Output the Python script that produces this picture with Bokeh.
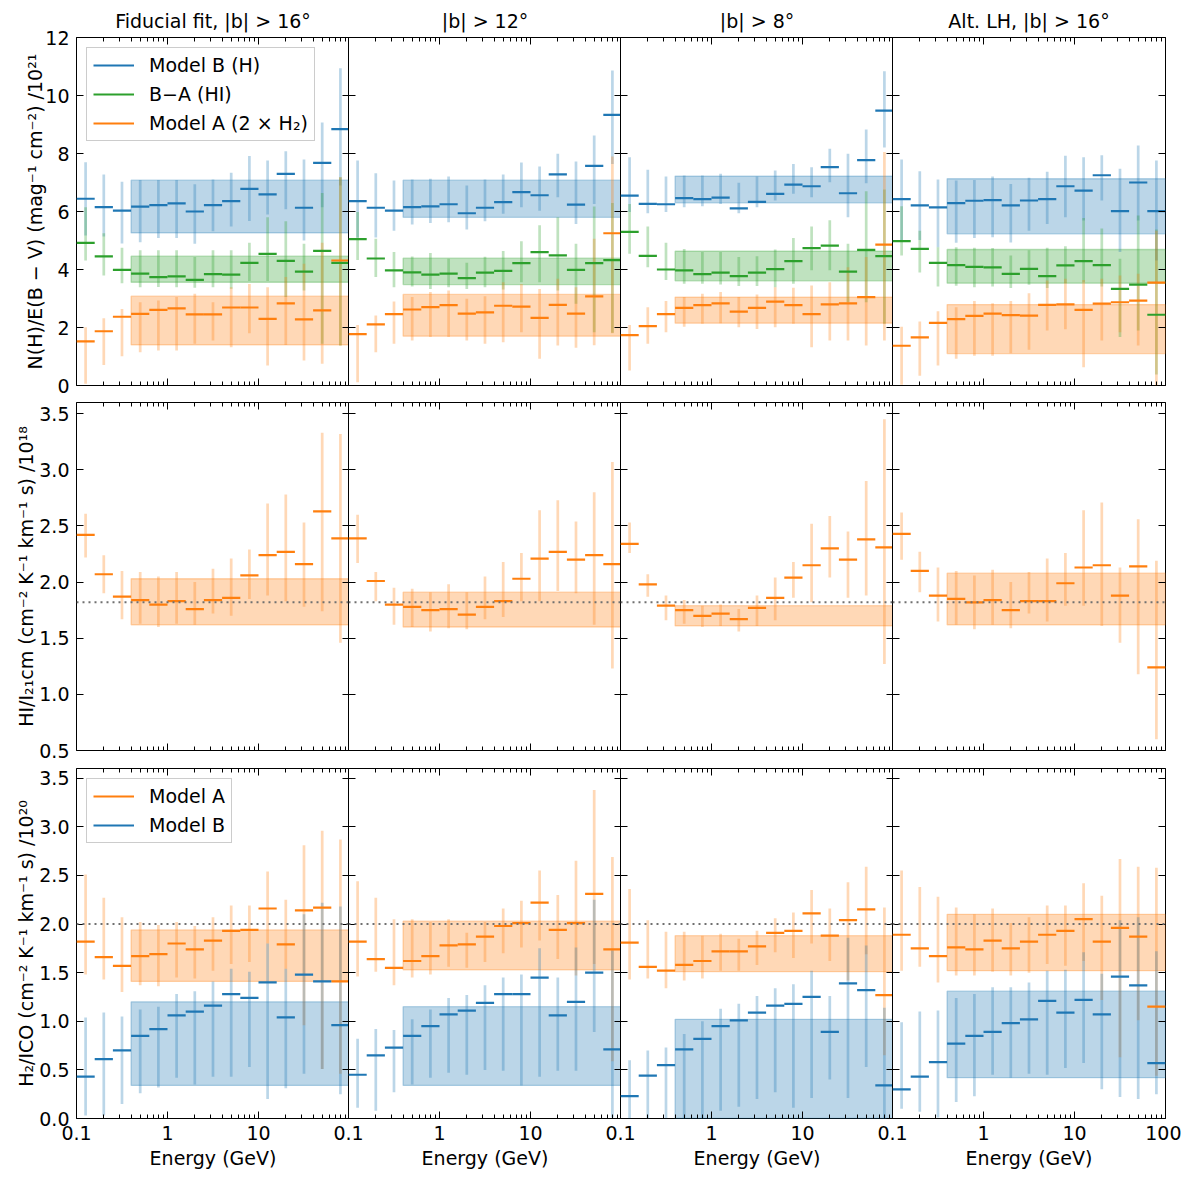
from bokeh.plotting import figure
from bokeh.models import FixedTicker, LinearAxis, LogAxis, Span, Legend, LegendItem
from bokeh.core.properties import value
from bokeh.layouts import row, column
from bokeh.embed import file_html
from bokeh.resources import INLINE

# ---------------- energy bins (GeV) ----------------
E_LO = [0.1, 0.1585, 0.2512, 0.3981, 0.631, 1.0, 1.585, 2.512, 3.981, 6.31, 10.0, 15.85, 25.12, 39.81, 63.1]
E_HI = [0.1585, 0.2512, 0.3981, 0.631, 1.0, 1.585, 2.512, 3.981, 6.31, 10.0, 15.85, 25.12, 39.81, 63.1, 100.0]
E_MID = [0.1259, 0.1995, 0.3162, 0.5012, 0.7943, 1.259, 1.995, 3.162, 5.012, 7.943, 12.59, 19.95, 31.62, 50.12, 79.43]
BAND_E = [0.3981, 100.0]

# ---------------- row 1: N(H)/E(B-V) ----------------
# fiducial |b|>16
B_f16 = [6.44, 6.15, 6.03, 6.17, 6.22, 6.28, 6.00, 6.22, 6.36, 6.78, 6.59, 7.30, 6.13, 7.68, 8.84]
B_f16_lo = [5.17, 5.14, 4.90, 4.94, 5.09, 5.09, 4.89, 5.32, 5.48, 5.67, 5.90, 6.08, 5.00, 6.15, 6.90]
B_f16_hi = [7.70, 7.28, 7.03, 7.09, 7.09, 7.09, 6.94, 7.10, 7.34, 7.91, 7.76, 8.08, 7.79, 9.07, 10.94]
G_f16 = [4.92, 4.45, 3.99, 3.86, 3.74, 3.76, 3.64, 3.84, 3.82, 4.23, 4.54, 4.30, 3.93, 4.64, 4.23]
G_f16_lo = [4.31, 3.79, 3.53, 3.39, 3.40, 3.39, 3.37, 3.39, 3.34, 3.60, 3.60, 3.05, 3.28, 1.44, 1.38]
G_f16_hi = [6.15, 5.25, 4.75, 4.66, 4.66, 4.66, 4.43, 4.66, 4.66, 4.92, 5.80, 5.66, 4.89, 6.64, 7.18]
O_f16 = [1.52, 1.87, 2.37, 2.47, 2.61, 2.66, 2.45, 2.45, 2.69, 2.69, 2.30, 2.83, 2.28, 2.59, 4.31]
O_f16_lo = [0.06, 0.71, 1.01, 1.15, 1.21, 1.21, 1.44, 1.55, 1.32, 1.80, 0.69, 1.40, 0.86, 0.75, 1.38]
O_f16_hi = [2.01, 2.32, 2.64, 2.87, 2.93, 3.05, 3.16, 2.87, 3.39, 3.50, 3.39, 3.74, 4.20, 4.92, 7.18]
BAND_B_f16 = [5.26, 7.08]
BAND_G_f16 = [3.56, 4.46]
BAND_O_f16 = [1.40, 3.08]

# |b|>12
B_b12 = [6.36, 6.13, 6.03, 6.15, 6.18, 6.25, 5.94, 6.13, 6.32, 6.67, 6.56, 7.28, 6.24, 7.57, 9.33]
B_b12_lo = [5.10, 5.10, 5.34, 5.55, 5.60, 5.63, 5.38, 5.66, 5.92, 6.15, 6.03, 6.49, 5.57, 6.26, 7.64]
B_b12_hi = [7.76, 7.32, 7.07, 7.10, 7.13, 7.21, 6.90, 7.10, 7.28, 7.69, 7.55, 7.99, 7.72, 8.62, 10.86]
G_b12 = [5.05, 4.38, 3.97, 3.90, 3.82, 3.86, 3.70, 3.89, 3.95, 4.22, 4.60, 4.49, 3.99, 4.22, 4.32]
G_b12_lo = [4.33, 3.74, 3.39, 3.41, 3.33, 3.39, 3.33, 3.39, 3.31, 3.56, 3.56, 3.28, 2.82, 1.84, 1.82]
G_b12_hi = [5.98, 5.06, 4.60, 4.45, 4.57, 4.37, 4.23, 4.44, 4.64, 4.97, 5.53, 5.80, 4.89, 6.17, 6.29]
O_b12 = [1.77, 2.11, 2.46, 2.62, 2.70, 2.77, 2.48, 2.52, 2.75, 2.72, 2.33, 2.78, 2.48, 3.07, 5.25]
O_b12_lo = [0.11, 1.15, 1.44, 1.55, 1.67, 1.67, 1.55, 1.44, 1.49, 1.84, 0.92, 1.38, 1.30, 1.39, 1.80]
O_b12_hi = [2.09, 2.41, 2.90, 3.05, 3.22, 3.28, 2.99, 3.08, 3.56, 3.50, 3.33, 3.68, 3.39, 5.06, 7.90]
BAND_B_b12 = [5.80, 7.08]
BAND_G_b12 = [3.48, 4.39]
BAND_O_b12 = [1.70, 3.14]

# |b|>8
B_b8 = [6.55, 6.26, 6.25, 6.46, 6.43, 6.48, 6.11, 6.33, 6.61, 6.93, 6.87, 7.53, 6.63, 7.77, 9.48]
B_b8_lo = [5.98, 5.94, 5.98, 6.15, 6.18, 6.26, 5.94, 6.15, 6.38, 6.61, 6.49, 7.01, 5.80, 6.97, 8.21]
B_b8_hi = [7.87, 7.44, 7.21, 7.24, 7.24, 7.30, 6.99, 7.21, 7.41, 7.64, 7.53, 8.16, 7.99, 8.83, 10.84]
G_b8 = [5.30, 4.47, 4.00, 3.97, 3.84, 3.89, 3.77, 3.89, 4.01, 4.29, 4.74, 4.82, 3.93, 4.68, 4.46]
G_b8_lo = [4.54, 4.08, 3.64, 3.51, 3.51, 3.48, 3.43, 3.43, 3.39, 3.51, 3.97, 3.97, 2.87, 2.87, 2.13]
G_b8_hi = [6.26, 5.48, 4.92, 4.71, 4.60, 4.60, 4.43, 4.46, 4.69, 5.09, 5.48, 5.70, 4.89, 6.70, 6.76]
O_b8 = [1.74, 2.05, 2.46, 2.68, 2.77, 2.83, 2.55, 2.68, 2.89, 2.77, 2.46, 2.80, 2.83, 3.05, 4.86]
O_b8_lo = [0.52, 1.44, 1.84, 2.03, 2.13, 2.15, 2.01, 1.95, 2.01, 2.13, 1.32, 1.55, 1.55, 1.38, 1.55]
O_b8_hi = [2.09, 2.70, 2.91, 3.05, 3.16, 3.22, 3.05, 3.14, 3.39, 3.37, 3.45, 3.56, 4.08, 4.43, 8.05]
BAND_B_b8 = [6.30, 7.22]
BAND_G_b8 = [3.61, 4.63]
BAND_O_b8 = [2.15, 3.05]

# Alt. LH |b|>16
B_alt = [6.43, 6.21, 6.14, 6.29, 6.37, 6.39, 6.21, 6.38, 6.43, 6.87, 6.72, 7.25, 6.01, 7.00, 6.01]
B_alt_lo = [5.00, 5.02, 4.77, 4.92, 5.09, 5.11, 4.93, 5.34, 5.57, 5.80, 5.69, 6.38, 4.60, 5.69, 4.31]
B_alt_hi = [7.79, 7.39, 7.10, 7.07, 7.09, 7.21, 6.95, 7.16, 7.37, 7.92, 7.87, 7.94, 7.47, 8.28, 7.76]
G_alt = [4.98, 4.71, 4.23, 4.15, 4.09, 4.07, 3.85, 4.02, 3.77, 4.14, 4.29, 4.15, 3.33, 3.48, 2.44]
G_alt_lo = [4.48, 3.90, 3.41, 3.44, 3.39, 3.41, 3.36, 3.47, 3.36, 3.53, 3.56, 3.41, 1.67, 1.90, 0.38]
G_alt_hi = [6.18, 5.34, 4.77, 4.77, 4.75, 4.74, 4.48, 4.66, 4.75, 4.80, 5.78, 5.41, 4.37, 5.86, 5.38]
O_alt = [1.37, 1.66, 2.16, 2.29, 2.40, 2.48, 2.43, 2.41, 2.78, 2.80, 2.61, 2.82, 2.87, 2.93, 3.55]
O_alt_lo = [0.03, 0.34, 0.69, 0.92, 1.03, 1.03, 1.11, 1.23, 1.90, 1.94, 0.63, 1.55, 1.84, 1.38, 0.00]
O_alt_hi = [2.03, 2.21, 2.56, 2.70, 2.91, 2.84, 2.91, 3.18, 3.62, 3.68, 3.64, 3.68, 3.79, 3.85, 5.34]
BAND_B_alt = [5.23, 7.13]
BAND_G_alt = [3.53, 4.69]
BAND_O_alt = [1.10, 2.79]

# ---------------- row 2: HI / I21cm ----------------
HI_f16 = [2.42, 2.07, 1.87, 1.84, 1.80, 1.83, 1.76, 1.84, 1.86, 2.06, 2.24, 2.27, 2.16, 2.63, 2.39]
HI_f16_lo = [2.22, 1.90, 1.67, 1.63, 1.60, 1.63, 1.62, 1.72, 1.70, 1.85, 1.88, 1.83, 1.78, 1.74, 1.46]
HI_f16_hi = [2.61, 2.24, 2.10, 2.09, 2.05, 2.09, 2.00, 2.12, 2.21, 2.29, 2.70, 2.78, 2.53, 3.33, 3.32]
BAND_HI_f16 = [1.62, 2.03]
HI_b12 = [2.39, 2.01, 1.80, 1.78, 1.75, 1.76, 1.71, 1.78, 1.83, 2.03, 2.21, 2.27, 2.20, 2.24, 2.16]
HI_b12_lo = [2.17, 1.83, 1.62, 1.60, 1.56, 1.59, 1.58, 1.67, 1.69, 1.83, 1.83, 1.92, 1.90, 1.62, 1.23]
HI_b12_hi = [2.60, 2.09, 1.95, 1.94, 1.91, 1.98, 1.91, 2.05, 2.18, 2.26, 2.64, 2.73, 2.54, 2.80, 3.07]
BAND_HI_b12 = [1.60, 1.91]
HI_b8 = [2.34, 1.98, 1.79, 1.75, 1.70, 1.72, 1.67, 1.77, 1.86, 2.04, 2.15, 2.30, 2.20, 2.38, 2.31]
HI_b8_lo = [2.26, 1.87, 1.66, 1.63, 1.60, 1.61, 1.56, 1.61, 1.66, 1.86, 1.82, 2.04, 1.86, 1.88, 1.27]
HI_b8_hi = [2.53, 2.07, 1.88, 1.84, 1.79, 1.80, 1.76, 1.88, 2.04, 2.18, 2.52, 2.59, 2.45, 2.90, 3.45]
BAND_HI_b8 = [1.61, 1.79]
HI_alt = [2.43, 2.10, 1.88, 1.85, 1.82, 1.84, 1.75, 1.83, 1.83, 1.99, 2.13, 2.15, 1.88, 2.14, 1.24]
HI_alt_lo = [2.20, 1.91, 1.65, 1.62, 1.58, 1.62, 1.59, 1.72, 1.65, 1.79, 1.79, 1.61, 1.46, 1.18, 0.60]
HI_alt_hi = [2.62, 2.27, 2.13, 2.10, 2.06, 2.11, 2.00, 2.09, 2.21, 2.26, 2.64, 2.71, 2.13, 2.56, 2.19]
BAND_HI_alt = [1.62, 2.08]

# ---------------- row 3: H2 / ICO ----------------
A_f16 = [1.82, 1.66, 1.57, 1.67, 1.69, 1.80, 1.74, 1.83, 1.93, 1.94, 2.16, 1.79, 2.14, 2.17, 1.41]
A_f16_lo = [1.48, 1.43, 1.30, 1.37, 1.36, 1.45, 1.44, 1.52, 1.59, 1.61, 1.80, 1.54, 0.96, 0.51, 0.46]
A_f16_hi = [2.51, 2.27, 2.07, 2.02, 1.99, 2.02, 1.98, 2.07, 2.19, 2.19, 2.54, 2.25, 2.81, 2.96, 2.87]
MB_f16 = [0.43, 0.61, 0.70, 0.85, 0.92, 1.06, 1.10, 1.16, 1.28, 1.24, 1.40, 1.04, 1.48, 1.41, 0.96]
MB_f16_lo = [0.03, 0.03, 0.15, 0.26, 0.32, 0.42, 0.35, 0.43, 0.43, 0.53, 0.20, 0.31, 0.46, 0.51, 0.25]
MB_f16_hi = [1.04, 1.09, 1.05, 1.12, 1.15, 1.28, 1.31, 1.41, 1.54, 1.51, 1.80, 1.54, 2.10, 2.22, 2.18]
BAND_A_f16 = [1.41, 1.94]
BAND_MB_f16 = [0.34, 1.20]

A_b12 = [1.82, 1.64, 1.55, 1.62, 1.67, 1.78, 1.79, 1.87, 1.98, 2.01, 2.22, 1.94, 2.01, 2.31, 1.74]
A_b12_lo = [1.46, 1.51, 1.37, 1.45, 1.48, 1.56, 1.55, 1.61, 1.70, 1.76, 1.83, 1.64, 1.47, 1.59, 0.59]
A_b12_hi = [2.44, 2.27, 2.05, 2.05, 2.02, 2.05, 1.91, 2.02, 2.16, 2.24, 2.55, 2.30, 2.65, 3.38, 2.69]
MB_b12 = [0.45, 0.65, 0.73, 0.85, 0.95, 1.07, 1.11, 1.19, 1.28, 1.28, 1.45, 1.06, 1.20, 1.50, 0.71]
MB_b12_lo = [0.11, 0.08, 0.27, 0.35, 0.42, 0.47, 0.45, 0.50, 0.49, 0.34, 0.43, 0.49, 0.49, 0.89, 0.01]
MB_b12_hi = [0.82, 0.92, 0.91, 1.02, 1.12, 1.24, 1.27, 1.37, 1.45, 1.48, 1.75, 1.45, 1.76, 2.25, 1.73]
BAND_A_b12 = [1.53, 2.03]
BAND_MB_b12 = [0.34, 1.15]

A_b8 = [1.81, 1.56, 1.52, 1.58, 1.62, 1.72, 1.72, 1.77, 1.91, 1.93, 2.11, 1.88, 2.04, 2.15, 1.27]
A_b8_lo = [1.43, 1.44, 1.34, 1.42, 1.44, 1.52, 1.52, 1.58, 1.71, 1.65, 1.80, 1.62, 1.42, 1.69, 0.65]
A_b8_hi = [2.36, 2.04, 1.92, 1.92, 1.88, 1.90, 1.85, 1.93, 2.06, 2.12, 2.35, 2.16, 2.43, 2.59, 2.17]
MB_b8 = [0.23, 0.44, 0.55, 0.71, 0.82, 0.95, 1.01, 1.09, 1.16, 1.18, 1.25, 0.89, 1.39, 1.32, 0.34]
MB_b8_lo = [0.00, 0.00, 0.00, 0.00, 0.00, 0.08, 0.12, 0.20, 0.27, 0.11, 0.21, 0.40, 0.21, 0.53, 0.00]
MB_b8_hi = [0.60, 0.70, 0.73, 0.87, 1.00, 1.13, 1.18, 1.26, 1.34, 1.38, 1.52, 1.26, 1.86, 1.78, 1.14]
BAND_A_b8 = [1.51, 1.88]
BAND_MB_b8 = [0.00, 1.02]

A_alt = [1.89, 1.75, 1.67, 1.76, 1.74, 1.83, 1.75, 1.82, 1.89, 1.93, 2.05, 1.82, 1.96, 1.87, 1.15]
A_alt_lo = [1.52, 1.56, 1.40, 1.47, 1.47, 1.51, 1.47, 1.50, 1.59, 1.57, 1.62, 1.22, 0.63, 1.01, 0.44]
A_alt_hi = [2.55, 2.38, 2.28, 2.17, 2.10, 2.16, 2.01, 2.07, 2.19, 2.19, 2.42, 2.29, 2.67, 2.59, 2.58]
MB_alt = [0.30, 0.43, 0.58, 0.77, 0.85, 0.89, 0.98, 1.02, 1.21, 1.09, 1.22, 1.07, 1.46, 1.37, 0.57]
MB_alt_lo = [0.10, 0.07, 0.01, 0.17, 0.23, 0.45, 0.42, 0.46, 0.45, 0.52, 0.57, 0.30, 0.22, 0.20, 0.25]
MB_alt_hi = [0.99, 1.10, 1.11, 1.24, 1.28, 1.35, 1.35, 1.40, 1.52, 1.53, 1.71, 1.49, 2.04, 2.07, 1.72]
BAND_A_alt = [1.52, 2.10]
BAND_MB_alt = [0.42, 1.31]

# reference levels (dotted lines)
HI_REF = 1.82
H2_REF = 2.0

# ---------------- text / ticks ----------------
TITLES = ["Fiducial fit, |b| > 16°", "|b| > 12°", "|b| > 8°", "Alt. LH, |b| > 16°"]
YLABELS = ["N(H)/E(B − V) (mag⁻¹ cm⁻²) /10²¹",
           "HI/I₂₁cm (cm⁻² K⁻¹ km⁻¹ s) /10¹⁸",
           "H₂/ICO (cm⁻² K⁻¹ km⁻¹ s) /10²⁰"]
XLABEL = "Energy (GeV)"
LEG1 = ["Model B (H)", "B−A (HI)", "Model A (2 × H₂)"]
LEG3 = ["Model A", "Model B"]
YRANGES = [(0, 12), (0.5, 3.6), (0, 3.6)]
YTICKS = [[0, 2, 4, 6, 8, 10, 12],
          [0.5, 1.0, 1.5, 2.0, 2.5, 3.0, 3.5],
          [0.0, 0.5, 1.0, 1.5, 2.0, 2.5, 3.0, 3.5]]
YTICK_LABELS = [["0", "2", "4", "6", "8", "10", "12"],
                ["0.5", "1.0", "1.5", "2.0", "2.5", "3.0", "3.5"],
                ["0.0", "0.5", "1.0", "1.5", "2.0", "2.5", "3.0", "3.5"]]
XTICKS = [0.1, 1, 10, 100]
XTICK_LABELS = ["0.1", "1", "10", "100"]
XMINOR = [0.2, 0.3, 0.4, 0.5, 0.6, 0.7, 0.8, 0.9, 2, 3, 4, 5, 6, 7, 8, 9,
          20, 30, 40, 50, 60, 70, 80, 90]

BLUE = "#1f77b4"
ORANGE = "#ff7f0e"
GREEN = "#2ca02c"
FONT = "DejaVu Sans"
FS = "19px"

PANELS = [
    [
        dict(series=[(B_f16, B_f16_lo, B_f16_hi, BLUE), (G_f16, G_f16_lo, G_f16_hi, GREEN), (O_f16, O_f16_lo, O_f16_hi, ORANGE)],
             bands=[(BAND_B_f16, BLUE), (BAND_G_f16, GREEN), (BAND_O_f16, ORANGE)]),
        dict(series=[(B_b12, B_b12_lo, B_b12_hi, BLUE), (G_b12, G_b12_lo, G_b12_hi, GREEN), (O_b12, O_b12_lo, O_b12_hi, ORANGE)],
             bands=[(BAND_B_b12, BLUE), (BAND_G_b12, GREEN), (BAND_O_b12, ORANGE)]),
        dict(series=[(B_b8, B_b8_lo, B_b8_hi, BLUE), (G_b8, G_b8_lo, G_b8_hi, GREEN), (O_b8, O_b8_lo, O_b8_hi, ORANGE)],
             bands=[(BAND_B_b8, BLUE), (BAND_G_b8, GREEN), (BAND_O_b8, ORANGE)]),
        dict(series=[(B_alt, B_alt_lo, B_alt_hi, BLUE), (G_alt, G_alt_lo, G_alt_hi, GREEN), (O_alt, O_alt_lo, O_alt_hi, ORANGE)],
             bands=[(BAND_B_alt, BLUE), (BAND_G_alt, GREEN), (BAND_O_alt, ORANGE)]),
    ],
    [
        dict(series=[(HI_f16, HI_f16_lo, HI_f16_hi, ORANGE)], bands=[(BAND_HI_f16, ORANGE)]),
        dict(series=[(HI_b12, HI_b12_lo, HI_b12_hi, ORANGE)], bands=[(BAND_HI_b12, ORANGE)]),
        dict(series=[(HI_b8, HI_b8_lo, HI_b8_hi, ORANGE)], bands=[(BAND_HI_b8, ORANGE)]),
        dict(series=[(HI_alt, HI_alt_lo, HI_alt_hi, ORANGE)], bands=[(BAND_HI_alt, ORANGE)]),
    ],
    [
        dict(series=[(A_f16, A_f16_lo, A_f16_hi, ORANGE), (MB_f16, MB_f16_lo, MB_f16_hi, BLUE)],
             bands=[(BAND_A_f16, ORANGE), (BAND_MB_f16, BLUE)]),
        dict(series=[(A_b12, A_b12_lo, A_b12_hi, ORANGE), (MB_b12, MB_b12_lo, MB_b12_hi, BLUE)],
             bands=[(BAND_A_b12, ORANGE), (BAND_MB_b12, BLUE)]),
        dict(series=[(A_b8, A_b8_lo, A_b8_hi, ORANGE), (MB_b8, MB_b8_lo, MB_b8_hi, BLUE)],
             bands=[(BAND_A_b8, ORANGE), (BAND_MB_b8, BLUE)]),
        dict(series=[(A_alt, A_alt_lo, A_alt_hi, ORANGE), (MB_alt, MB_alt_lo, MB_alt_hi, BLUE)],
             bands=[(BAND_A_alt, ORANGE), (BAND_MB_alt, BLUE)]),
    ],
]

FRAME_W = 273
FRAME_H = [348, 348, 350]
TOP = [37, 7, 8]
BOTTOM = [10, 10, 54]
OVERLAP = 17
YLABEL_STANDOFF = [-4, -1, -1]


def style_axis(ax):
    ax.axis_line_color = None
    ax.major_tick_in = 7
    ax.major_tick_out = 0
    ax.minor_tick_in = 4
    ax.minor_tick_out = 0
    ax.major_tick_line_color = "black"
    ax.minor_tick_line_color = "black"
    ax.major_tick_line_width = 1
    ax.minor_tick_line_width = 1
    ax.major_label_text_font = FONT
    ax.major_label_text_font_size = FS
    ax.major_label_text_color = "black"
    ax.major_label_standoff = 7
    ax.axis_label_text_font = FONT
    ax.axis_label_text_font_size = FS
    ax.axis_label_text_font_style = "normal"
    ax.axis_label_text_color = "black"


def hide_labels(ax, ticks):
    ax.major_label_overrides = {t: "" for t in ticks}
    ax.major_label_text_font_size = "0px"
    ax.major_label_standoff = 0


def make_panel(r, c):
    kw = dict(x_axis_type="log", x_range=(0.1, 100), y_range=YRANGES[r],
              frame_width=FRAME_W, frame_height=FRAME_H[r],
              min_border_left=76 if c == 0 else OVERLAP - 1,
              min_border_right=16 if c == 3 else 0,
              min_border_top=TOP[r], min_border_bottom=BOTTOM[r],
              output_backend="svg", toolbar_location=None)
    if r == 0:
        kw["title"] = TITLES[c]
    p = figure(**kw)
    if c > 0:
        p.margin = (0, 0, 0, -OVERLAP)
        p.border_fill_alpha = 0
    if r == 0:
        p.title.align = "center"
        p.title.text_font = FONT
        p.title.text_font_size = FS
        p.title.text_font_style = "normal"
        p.title.text_color = "black"
        p.title.standoff = 12
    p.grid.visible = False
    p.outline_line_color = "black"
    p.outline_line_alpha = 1
    p.outline_line_width = 1

    xt = FixedTicker(ticks=XTICKS, minor_ticks=XMINOR)
    yt = FixedTicker(ticks=YTICKS[r], minor_ticks=[])

    xb = p.xaxis[0]
    xb.ticker = xt
    style_axis(xb)
    if r == 2:
        labs = list(XTICK_LABELS)
        if c < 3:
            labs[-1] = ""
        xb.major_label_overrides = dict(zip(XTICKS, labs))
        xb.axis_label = XLABEL
        xb.axis_label_standoff = 4
    else:
        hide_labels(xb, XTICKS)

    yl = p.yaxis[0]
    yl.ticker = yt
    style_axis(yl)
    if c == 0:
        yl.major_label_overrides = dict(zip(YTICKS[r], YTICK_LABELS[r]))
        yl.axis_label = YLABELS[r]
        yl.axis_label_standoff = YLABEL_STANDOFF[r]
    else:
        hide_labels(yl, YTICKS[r])

    xa = LogAxis(ticker=xt)
    style_axis(xa)
    hide_labels(xa, XTICKS)
    p.add_layout(xa, "above")
    yr = LinearAxis(ticker=yt)
    style_axis(yr)
    hide_labels(yr, YTICKS[r])
    p.add_layout(yr, "right")

    spec = PANELS[r][c]
    for (lohi, col) in spec["bands"]:
        p.quad(left=BAND_E[0], right=BAND_E[1], bottom=lohi[0], top=lohi[1],
               fill_color=col, fill_alpha=0.3, line_color=col, line_alpha=0.3, line_width=1.3)

    if r == 1:
        p.add_layout(Span(location=HI_REF, dimension="width", line_color="#707070",
                          line_dash="2 4", line_width=2))
    if r == 2:
        p.add_layout(Span(location=H2_REF, dimension="width", line_color="#707070",
                          line_dash="2 4", line_width=2))

    mids = []
    for (y, lo, hi, col) in spec["series"]:
        p.segment(x0=E_MID, x1=E_MID, y0=lo, y1=hi, line_color=col, line_alpha=0.3, line_width=2.7)
    for (y, lo, hi, col) in spec["series"]:
        mids.append(p.segment(x0=E_LO, x1=E_HI, y0=y, y1=y, line_color=col, line_width=2.2))

    labels = None
    if c == 0 and r == 0:
        labels = LEG1
    if c == 0 and r == 2:
        labels = LEG3
    if labels:
        items = [LegendItem(label=value(t), renderers=[m]) for t, m in zip(labels, mids)]
        leg = Legend(items=items, location="top_left", margin=10, padding=6, spacing=7,
                     glyph_width=41, glyph_height=22, label_height=22, label_standoff=15,
                     label_text_font=FONT, label_text_font_size=FS, label_text_color="black",
                     border_line_color="#cccccc", border_line_width=1, border_line_alpha=1,
                     background_fill_color="white", background_fill_alpha=0.8)
        p.add_layout(leg)
    return p


rows = []
for r in range(3):
    rows.append(row(*[make_panel(r, c) for c in range(4)], spacing=0))
layout = column(*rows, spacing=0)

open("out.html", "w").write(file_html(layout, INLINE))
